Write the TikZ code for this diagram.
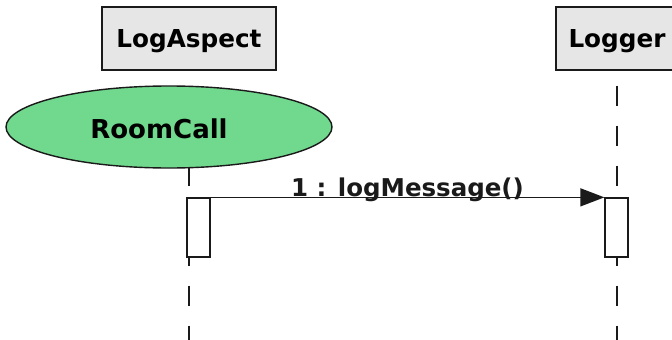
\documentclass[tikz,border=0pt]{standalone}
\usepackage{fontspec}
\setsansfont{DejaVu Sans}
\usetikzlibrary{arrows.meta, shapes.geometric, positioning}
\definecolor{ink}{HTML}{1A1A1A}
\definecolor{boxgray}{HTML}{E6E6E6}
\definecolor{casegreen}{HTML}{70D98E}
\tikzset{
  umltext/.style={font=\sffamily\bfseries\fontsize{#1}{#1}\selectfont, text depth=0pt},
  objbox/.style={draw=ink, fill=boxgray, line width=1.3pt, minimum height=63pt, inner sep=0pt, umltext=24.7},
  usecase/.style={ellipse, draw=ink, fill=casegreen, line width=1.4pt, minimum width=326pt, minimum height=82pt, inner sep=0pt},
  actbox/.style={draw=ink, fill=white, line width=1.3pt, minimum width=23pt, minimum height=59pt, inner sep=0pt},
  lifeline/.style={ink, line width=1.4pt, dash pattern=on 20pt off 20pt, dash phase=25pt},
  msg/.style={ink, line width=1.4pt, -{Triangle[length=24pt, width=18pt]}},
  msglabel/.style={anchor=base, yshift=1pt, inner sep=0pt, umltext=24.5}
}

\begin{document}
\begin{tikzpicture}[x=1pt, y=-1pt]
  \useasboundingbox (0,0) rectangle (672,340);
  \fill[white] (0,0) rectangle (672,340);
  \clip (0,0) rectangle (672,340);
  % objects and their lifelines
  \node[objbox, minimum width=174pt] (aspect) at (189,38.5) {LogAspect};
  \node[objbox, minimum width=122pt] (logger) at (617,38.5) {Logger};
  \coordinate (aspectEnd) at (aspect.south |- 0,345);
  \coordinate (loggerEnd) at (logger.south |- 0,345);
  \foreach \obj in {aspect, logger}
     \draw[lifeline] (\obj.south) -- (\obj End);
  % use case over the first lifeline
  \node[usecase, label={[umltext=26, xshift=-10pt, yshift=-1.5pt]center:RoomCall}] (roomcall) at (169,127) {};
  % activations and the message
  \node[actbox] (actL) at (198.5,227.5) {};
  \node[actbox] (actR) at (616.5,227.5) {};
  \draw[msg] (actL.north east) -- node[msglabel]{1 : logMessage()} (actR.north west);
\end{tikzpicture}
\end{document}
